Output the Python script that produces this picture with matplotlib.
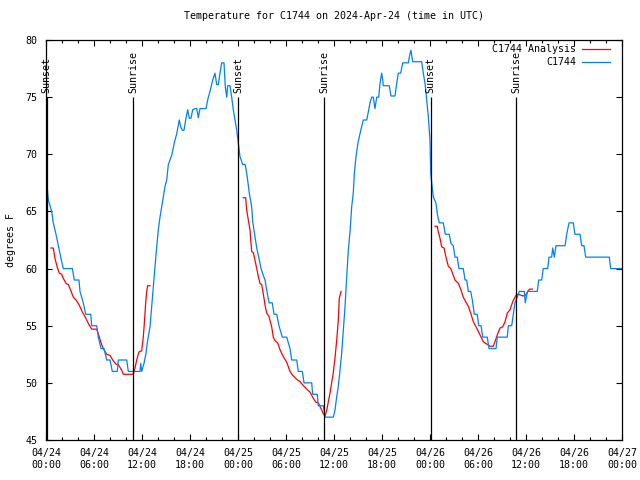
import matplotlib
matplotlib.use("Agg")
import matplotlib.pyplot as plt
import matplotlib.dates as mdates
import numpy as np
import pandas as pd

# hours after 2024-04-24 00:00 UTC, temperature in degrees F
obs_hours = [0.16, 0.29, 0.71, 0.91, 1.25, 1.54, 1.84, 2.16, 3.29, 3.54, 4.12, 4.25, 4.66, 4.96, 5.59,
             5.71, 6.34, 6.54, 6.88, 7.25, 7.59, 8.0, 8.29, 8.91, 9.04, 10.09, 10.29, 11.75, 11.84, 11.96,
             12.25, 12.5, 12.66, 13.0, 13.21, 13.41, 13.63, 13.84, 14.04, 14.25, 14.46, 14.66, 14.88, 15.09,
             15.29, 15.71, 16.04, 16.34, 16.66, 16.84, 17.04, 17.25, 17.46, 17.71, 17.91, 18.12, 18.34, 18.62,
             18.84, 19.04, 19.25, 20.0, 20.29, 20.5, 20.84, 21.12, 21.34, 21.54, 21.75, 21.96, 22.25, 22.41,
             22.59, 22.71, 23.0, 23.21, 23.41, 23.62, 23.84, 24.04, 24.25, 24.59, 24.91, 25.16, 25.41, 25.71,
             25.84, 26.12, 26.34, 26.62, 26.88, 27.16, 27.38, 27.59, 27.88, 28.29, 28.5, 28.84, 29.12, 29.54,
             30.09, 30.29, 30.5, 30.71, 31.34, 31.54, 32.04, 32.25, 33.21, 33.34, 33.91, 34.04, 34.66, 34.88,
             35.91, 36.12, 36.34, 36.54, 36.75, 36.96, 37.16, 37.38, 37.59, 37.79, 38.0, 38.21, 38.41, 38.54,
             38.75, 39.0, 39.25, 39.46, 39.66, 40.09, 40.29, 40.5, 40.71, 40.91, 41.12, 41.34, 41.59, 41.75,
             41.96, 42.09, 42.16, 42.91, 43.12, 43.62, 43.84, 44.04, 44.34, 44.59, 45.29, 45.5, 45.62, 45.84,
             46.96, 47.16, 47.38, 47.59, 47.79, 48.0, 48.09, 48.41, 48.75, 48.91, 49.16, 49.66, 49.91, 50.41,
             50.62, 50.91, 51.12, 51.41, 51.62, 52.16, 52.38, 52.59, 52.79, 53.09, 53.29, 53.54, 53.91, 54.09,
             54.38, 54.59, 55.16, 55.38, 56.25, 56.41, 57.66, 57.79, 58.21, 58.41, 58.62, 58.91, 59.16, 59.79,
             59.91, 60.09, 60.21, 61.41, 61.59, 61.96, 62.16, 62.71, 62.88, 63.21, 63.34, 63.54, 63.75, 64.88,
             65.09, 65.38, 65.91, 66.12, 66.75, 66.96, 67.25, 67.46, 70.41, 70.59, 72.0]
obs_temp = [67.0, 66.0, 65.0, 64.0, 63.0, 62.0, 61.0, 60.0, 60.0, 59.0, 59.0, 58.0, 57.0, 56.0, 56.0,
            55.0, 55.0, 54.0, 53.0, 53.0, 52.0, 52.0, 51.0, 51.0, 52.0, 52.0, 51.0, 51.0, 51.7, 51.0,
            51.7, 52.6, 53.5, 54.9, 56.7, 58.4, 60.2, 61.9, 63.4, 64.5, 65.4, 66.3, 67.2, 67.75,
            69.1, 69.9, 71.0, 71.8, 73.0, 72.4, 72.1, 72.1, 73.0, 73.9, 73.15, 73.15, 73.9, 74.0,
            74.0, 73.2, 74.0, 74.0, 75.0, 75.5, 76.5, 77.1, 76.1, 76.1, 77.1, 78.0, 78.0, 75.9,
            75.0, 76.0, 76.0, 75.0, 73.9, 73.0, 72.1, 71.0, 69.8, 69.1, 69.1, 68.0, 66.6, 65.4,
            64.1, 62.8, 61.8, 60.9, 60.0, 59.4, 59.0, 58.1, 57.0, 57.0, 56.0, 56.0, 55.0, 54.0,
            54.0, 53.5, 53.0, 52.0, 52.0, 51.0, 51.0, 50.0, 50.0, 49.0, 49.0, 48.0, 48.0, 47.0,
            47.0, 47.6, 48.8, 49.7, 51.1, 52.6, 54.6, 56.7, 59.3, 61.6, 63.2, 65.4, 66.6, 68.3,
            69.8, 71.0, 71.8, 72.4, 73.0, 73.0, 73.7, 74.5, 75.0, 75.0, 74.0, 75.0, 75.0, 76.2,
            77.1, 76.5, 76.0, 76.0, 75.1, 75.1, 76.2, 77.1, 77.1, 78.0, 78.0, 78.8, 79.1, 78.1,
            78.1, 77.1, 76.2, 74.75, 73.3, 71.25, 68.3, 66.3, 65.7, 64.8, 64.0, 64.0, 63.0, 63.0,
            62.2, 62.0, 61.0, 61.0, 60.0, 60.0, 59.0, 59.0, 58.0, 58.0, 57.25, 56.0, 56.0, 55.0,
            55.0, 54.0, 54.0, 53.0, 53.0, 54.0, 54.0, 55.0, 55.0, 56.0, 57.0, 57.5, 58.0, 58.0,
            57.0, 57.7, 58.0, 58.0, 59.0, 59.0, 60.0, 60.0, 61.0, 61.0, 61.8, 61.0, 62.0, 62.0,
            63.0, 64.0, 64.0, 63.0, 63.0, 62.0, 62.0, 61.0, 61.0, 60.0, 60.0]

# analysis runs (three separate night segments)
ana1_hours = [0.62, 0.91, 1.12, 1.41, 1.66, 1.96, 2.16, 2.5, 2.79, 3.09, 3.41, 3.75, 4.16, 4.54, 4.88,
              5.29, 5.71, 6.34, 6.54, 6.88, 7.16, 7.59, 8.0, 8.34, 8.71, 9.04, 9.46, 9.66, 10.91, 11.12,
              11.34, 11.62, 11.96, 12.16, 12.29, 12.46, 12.59, 12.71, 13.0]
ana1_temp = [61.8, 61.8, 60.9, 60.1, 59.6, 59.5, 59.15, 58.7, 58.6, 58.1, 57.5, 57.25, 56.8, 56.2, 55.8,
             55.2, 54.7, 54.7, 54.3, 53.5, 53.0, 52.5, 52.4, 52.0, 51.65, 51.6, 51.1, 50.75, 50.75, 51.3,
             52.0, 52.7, 52.8, 54.0, 55.2, 57.0, 58.0, 58.5, 58.5]
ana2_hours = [24.66, 24.96, 25.09, 25.29, 25.5, 25.59, 25.71, 25.91, 26.12, 26.34, 26.54, 26.75, 26.96,
              27.16, 27.38, 27.59, 27.88, 28.21, 28.41, 28.62, 28.96, 29.25, 29.66, 30.09, 30.5, 30.79,
              31.34, 31.75, 32.25, 32.66, 33.0, 33.41, 33.75, 34.04, 34.34, 34.66, 34.88, 35.09, 35.29,
              35.5, 35.71, 35.91, 36.12, 36.34, 36.54, 36.66, 36.88]
ana2_temp = [66.2, 66.2, 65.1, 64.25, 63.4, 62.5, 61.5, 61.4, 60.75, 60.0, 59.3, 58.7, 58.6,
             57.8, 56.8, 56.1, 55.8, 54.9, 54.0, 53.7, 53.5, 52.9, 52.3, 51.8, 51.0, 50.7,
             50.3, 50.1, 49.7, 49.4, 49.2, 48.65, 48.3, 48.25, 47.8, 47.3, 47.1, 47.6, 48.35,
             49.1, 50.0, 50.9, 52.15, 53.75, 55.5, 57.4, 58.0]
ana3_hours = [48.62, 48.91, 49.04, 49.25, 49.46, 49.75, 50.0, 50.29, 50.59, 50.91, 51.12, 51.54, 51.84,
              52.16, 52.46, 52.79, 53.09, 53.41, 53.84, 54.25, 54.66, 55.09, 55.5, 55.91, 56.12, 56.41,
              56.75, 57.09, 57.38, 57.66, 58.0, 58.34, 58.62, 58.84, 59.25, 59.66, 60.0, 60.29, 60.5, 60.79]
ana3_temp = [63.7, 63.7, 63.2, 62.65, 61.9, 61.8, 61.0, 60.2, 60.0, 59.4, 59.0, 58.7, 58.2,
             57.5, 57.1, 56.7, 56.1, 55.35, 54.8, 54.2, 53.6, 53.4, 53.2, 53.2, 53.6, 54.2,
             54.8, 54.9, 55.35, 56.1, 56.4, 57.1, 57.5, 57.75, 57.7, 57.6, 57.7, 58.1, 58.2, 58.2]

sun_hours = [0.08, 10.91, 24.04, 34.79, 48.09, 58.79]
sun_labels = ["Sunset", "Sunrise", "Sunset", "Sunrise", "Sunset", "Sunrise"]

series_names = ["C1744 Analysis", "C1744"]

base = pd.Timestamp("2024-04-24 00:00")


def to_time(h):
    return base + pd.to_timedelta(np.array(h), unit="h")


fs = 7.2
plt.rcParams["font.family"] = ["DejaVu Sans Mono"]
plt.rcParams["font.size"] = fs

fig = plt.figure(figsize=(6.4, 4.8), dpi=100)
ax = fig.add_axes([46 / 640, 40 / 480, 576 / 640, 400 / 480])

red = "#ff0000"
blue = "#0080ff"
for hh, tt in [(ana1_hours, ana1_temp), (ana2_hours, ana2_temp), (ana3_hours, ana3_temp)]:
    ax.plot(to_time(hh), tt, color=red, lw=0.9)
ax.plot(to_time(obs_hours), obs_temp, color=blue, lw=0.9)

# sunrise / sunset markers
ax.vlines(to_time(sun_hours), 45, 75, color="k", lw=0.9)
for t, s in zip(to_time(sun_hours), sun_labels):
    ax.text(t, 75.4, s, rotation=90, ha="center", va="bottom", fontsize=fs)

ax.set_xlim(base, base + pd.Timedelta(hours=72))
ax.set_ylim(45, 80)
ax.set_yticks(np.arange(45, 81, 5))
ax.xaxis.set_major_locator(mdates.HourLocator(byhour=[0, 6, 12, 18]))
ax.xaxis.set_minor_locator(mdates.HourLocator(interval=2))
ax.xaxis.set_major_formatter(mdates.DateFormatter("%m/%d\n%H:%M"))
ax.tick_params(which="both", direction="in", top=True, right=True, width=0.8, labelsize=fs)
ax.tick_params(which="major", length=4.5, pad=6)
ax.tick_params(which="minor", length=2.5)
for sp in ax.spines.values():
    sp.set_linewidth(0.9)

ax.set_title("Temperature for C1744 on 2024-Apr-24 (time in UTC)", fontsize=fs, pad=15)
ax.set_ylabel("degrees F", fontsize=fs, labelpad=7)

# gnuplot-style key: right-justified text, line sample on the right
for name, col, ky in zip(series_names, [red, blue], [0.9775, 0.945]):
    ax.text(0.920, ky, name, ha="right", va="center", transform=ax.transAxes, fontsize=fs)
    ax.plot([0.931, 0.979], [ky, ky], color=col, lw=0.9, transform=ax.transAxes)

fig.savefig("out.png", dpi=100)
